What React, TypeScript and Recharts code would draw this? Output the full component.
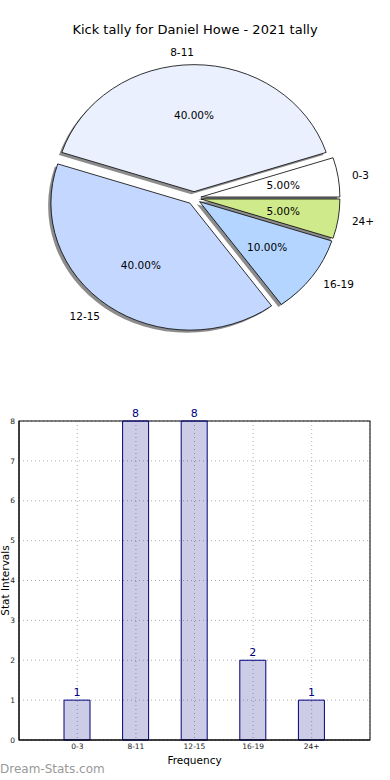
import React from "react"
import * as R from "recharts"
import { PieChart, Pie, BarChart, Bar, XAxis, YAxis, CartesianGrid, LabelList } from "recharts"

const categories = ["0-3", "8-11", "12-15", "16-19", "24+"]
const tally = [1, 8, 8, 2, 1]
const sliceColors = ["#ffffff", "#eaf0fe", "#c4d8ff", "#b3d5ff", "#cfea8a"]
const yTicks = [0, 1, 2, 3, 4, 5, 6, 7, 8]

const pieData = categories.map((name, i) => ({ name, value: tally[i], fill: sliceColors[i] }))
const barData = categories.map((name, i) => ({ name, value: tally[i] }))

const FONT = "DejaVu Sans, Verdana, sans-serif"
const RAD = Math.PI / 180
// the matplotlib axes were not square, so the pie is a bit wider than tall
const ASPECT = 139 / 127
const EXPLODE = 0.05

const BAR_MARGIN = { top: 21, right: 20, left: 0, bottom: 0 }
const BAR_W = 390
const BAR_H = 380
const Y_AXIS_W = 19
const X_AXIS_H = 40

function wedgePath(cx: number, cy: number, ry: number, a0: number, a1: number) {
  const rx = ry * ASPECT
  const pt = (a: number) => [cx + rx * Math.cos(a * RAD), cy - ry * Math.sin(a * RAD)]
  const [x0, y0] = pt(a0)
  const [x1, y1] = pt(a1)
  const large = a1 - a0 > 180 ? 1 : 0
  return `M${cx},${cy} L${x0},${y0} A${rx},${ry} 0 ${large} 0 ${x1},${y1} Z`
}

function explodedCenter(p: any) {
  const mid = (p.startAngle + p.endAngle) / 2
  const ry = p.outerRadius
  const rx = ry * ASPECT
  return {
    x: p.cx + EXPLODE * rx * Math.cos(mid * RAD),
    y: p.cy - EXPLODE * ry * Math.sin(mid * RAD),
  }
}

const Wedge = (p: any) => {
  const c = explodedCenter(p)
  return <path d={wedgePath(c.x, c.y, p.outerRadius, p.startAngle, p.endAngle)} fill={p.payload?.fill ?? p.fill} stroke="#000" strokeWidth={0.8} />
}

const WedgeShadow = (p: any) => {
  const c = explodedCenter(p)
  return <path d={wedgePath(c.x - 2.8, c.y + 2.5, p.outerRadius, p.startAngle, p.endAngle)} fill="#000" fillOpacity={0.45} stroke="none" />
}

const SliceLabel = (p: any) => {
  const mid = p.midAngle
  const ry = p.outerRadius
  const rx = ry * ASPECT
  const c = explodedCenter(p)
  const cos = Math.cos(mid * RAD)
  const sin = Math.sin(mid * RAD)
  return (
    <g>
      <text x={c.x + 1.1 * rx * cos} y={c.y - 1.1 * ry * sin} textAnchor={cos > 1e-6 ? "start" : "end"} dominantBaseline="central" fontSize={10.5} fontFamily={FONT} fill="#000">
        {p.name}
      </text>
      <text x={c.x + 0.6 * rx * cos} y={c.y - 0.6 * ry * sin} textAnchor="middle" dominantBaseline="central" fontSize={10.5} fontFamily={FONT} fill="#000">
        {(p.percent * 100).toFixed(2)}%
      </text>
    </g>
  )
}

// box around the plot area, like matplotlib's spines
const Frame = () => {
  const hook = (R as any).usePlotArea
  const area = hook ? hook() : null
  const x = area?.x ?? BAR_MARGIN.left + Y_AXIS_W
  const y = area?.y ?? BAR_MARGIN.top
  const w = area?.width ?? BAR_W - BAR_MARGIN.left - BAR_MARGIN.right - Y_AXIS_W
  const h = area?.height ?? BAR_H - BAR_MARGIN.top - BAR_MARGIN.bottom - X_AXIS_H
  return <rect x={x} y={y} width={w} height={h} fill="none" stroke="#000" strokeWidth={1} />
}

export default function App() {
  return (
    <div style={{ position: "absolute", left: 0, top: 0, width: 390, height: 780, background: "#fff", fontFamily: FONT }}>
      <div style={{ position: "absolute", top: 22, left: 0, width: 390, textAlign: "center", fontSize: 13, lineHeight: "15px", color: "#000" }}>
        Kick tally for Daniel Howe - 2021 tally
      </div>

      <div style={{ position: "absolute", top: 0, left: 0 }}>
        <PieChart width={390} height={360} margin={{ top: 0, right: 0, bottom: 0, left: 0 }}>
          <Pie data={pieData} dataKey="value" nameKey="name" cx={194} cy={198} outerRadius={127} shape={WedgeShadow} isAnimationActive={false} />
          <Pie data={pieData} dataKey="value" nameKey="name" cx={194} cy={198} outerRadius={127} shape={Wedge} label={SliceLabel} labelLine={false} isAnimationActive={false} />
        </PieChart>
      </div>

      <div style={{ position: "absolute", top: 400, left: 0 }}>
        <BarChart width={BAR_W} height={BAR_H} data={barData} margin={BAR_MARGIN}>
          <CartesianGrid stroke="#b0b0b0" strokeDasharray="1 3" />
          <XAxis
            dataKey="name"
            height={X_AXIS_H}
            padding={{ left: 29, right: 29 }}
            tickLine={false}
            tickSize={0}
            tickMargin={4}
            axisLine={{ stroke: "#000" }}
            tick={{ fontSize: 7.5, fill: "#222", fontFamily: FONT }}
            label={{ value: "Frequency", position: "insideBottom", offset: 16, fontSize: 10.5, fill: "#000", fontFamily: FONT }}
          />
          <YAxis
            width={Y_AXIS_W}
            domain={[0, 8]}
            ticks={yTicks}
            interval={0}
            tickLine={false}
            tickSize={0}
            tickMargin={4}
            axisLine={{ stroke: "#000" }}
            tick={{ fontSize: 7.5, fill: "#222", fontFamily: FONT }}
            label={{ value: "Stat Intervals", angle: -90, position: "insideLeft", offset: 5, fontSize: 10.5, fill: "#000", fontFamily: FONT, style: { textAnchor: "middle" } }}
          />
          <Bar dataKey="value" barSize={26} fill="#000080" fillOpacity={0.2} stroke="#000080" strokeWidth={1} isAnimationActive={false}>
            <LabelList dataKey="value" position="top" offset={4} fontSize={11} fill="#000080" fontFamily={FONT} />
          </Bar>
          <Frame />
        </BarChart>
      </div>

      <div style={{ position: "absolute", top: 762, left: 0, fontSize: 12, lineHeight: "14px", color: "#999" }}>
        Dream-Stats.com
      </div>
    </div>
  )
}
